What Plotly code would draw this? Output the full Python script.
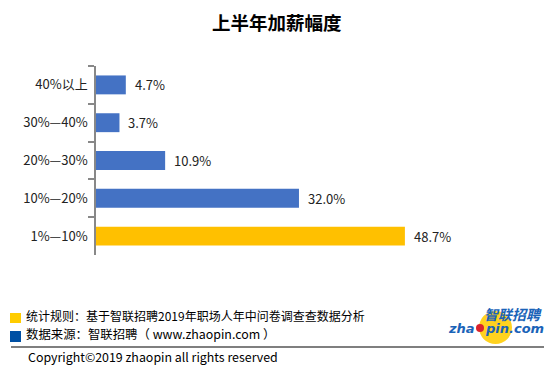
import plotly.graph_objects as go

categories = ["40%以上", "30%—40%", "20%—30%", "10%—20%", "1%—10%"]
values = [4.7, 3.7, 10.9, 32.0, 48.7]
bar_colors = ["#4472C4", "#4472C4", "#4472C4", "#4472C4", "#FFC000"]
value_labels = ["4.7%", "3.7%", "10.9%", "32.0%", "48.7%"]

title_text = "上半年加薪幅度"
note1 = "统计规则：基于智联招聘2019年职场人年中问卷调查查数据分析"
note2 = "数据来源：智联招聘（ www.zhaopin.com ）"
copyright_text = "Copyright©2019 zhaopin all rights reserved"

FONT = "Noto Sans CJK SC"
OFF = 8  # page body margin
W, H = 538, 360
ml, mr, mt, mb = 88, 6, 58, 113
pw = W - ml - mr
ph = H - mt - mb

def dx(p):
    return (p - OFF - ml) / pw

def dy(p):
    return (H - mb - (p - OFF)) / ph

fig = go.Figure(go.Bar(
    y=categories, x=values, orientation="h",
    marker=dict(color=bar_colors, line=dict(width=0)),
    hoverinfo="skip",
))

for c, v, t in zip(categories, values, value_labels):
    fig.add_annotation(x=v, y=c, xref="x", yref="y", text=t, showarrow=False,
                       xanchor="left", xshift=7, font=dict(family=FONT, size=13, color="#222"))

paper_anns = [
    dict(x=277, y=22, text="<b>" + title_text + "</b>", size=18.5, xanchor="center"),
    dict(x=24, y=315, text=note1, size=12, xanchor="left"),
    dict(x=24, y=334, text=note2, size=12.4, xanchor="left"),
    dict(x=26, y=357, text=copyright_text, size=12.4, xanchor="left"),
]
for a in paper_anns:
    fig.add_annotation(x=dx(a["x"]), y=dy(a["y"]), xref="paper", yref="paper", text=a["text"],
                       showarrow=False, xanchor=a["xanchor"], yanchor="middle",
                       font=dict(family=FONT, size=a["size"], color="#000"))

shapes = [
    dict(type="rect", x0=dx(10), x1=dx(21), y0=dy(323), y1=dy(313), fillcolor="#FFCC00", line=dict(width=0)),
    dict(type="rect", x0=dx(10), x1=dx(21), y0=dy(342), y1=dy(331), fillcolor="#0050A4", line=dict(width=0)),
    dict(type="line", x0=dx(11), x1=dx(544), y0=dy(347), y1=dy(347), line=dict(color="#000", width=1.2)),
    dict(type="circle", x0=dx(479), x1=dx(512), y0=dy(344), y1=dy(311), fillcolor="#FFD21F", line=dict(width=0)),
    dict(type="circle", x0=dx(476), x1=dx(484), y0=dy(332), y1=dy(324), fillcolor="#D9232D", line=dict(width=0)),
]
for s in shapes:
    s["xref"] = "paper"
    s["yref"] = "paper"
    fig.add_shape(**s)

logo_color = "#1A63B8"
fig.add_annotation(x=dx(513), y=dy(313.5), xref="paper", yref="paper", text="<b><i>智联招聘</i></b>",
                   showarrow=False, xanchor="center", yanchor="middle",
                   font=dict(family=FONT, size=14, color=logo_color))
fig.add_annotation(x=dx(477), y=dy(328), xref="paper", yref="paper", text="<b><i>zha</i></b>",
                   showarrow=False, xanchor="right", yanchor="middle",
                   font=dict(family="DejaVu Sans", size=13, color=logo_color))
fig.add_annotation(x=dx(483), y=dy(328), xref="paper", yref="paper", text="<b><i>pin.com</i></b>",
                   showarrow=False, xanchor="left", yanchor="middle",
                   font=dict(family="DejaVu Sans", size=13, color=logo_color))

fig.update_layout(
    width=W, height=H,
    margin=dict(l=ml, r=mr, t=mt, b=mb, pad=0, autoexpand=False),
    paper_bgcolor="white", plot_bgcolor="white",
    bargap=0.5, showlegend=False,
    xaxis=dict(range=[0, 70], visible=False, fixedrange=True),
    yaxis=dict(autorange="reversed", showline=True, linecolor="#888", linewidth=1.5,
               ticks="outside", tickson="boundaries", ticklen=6, tickcolor="#888", tickwidth=1.5,
               showgrid=False, zeroline=False, ticklabelstandoff=4, automargin=False,
               tickfont=dict(family=FONT, size=13, color="#222")),
    font=dict(family=FONT),
)

fig.write_html("out.html")
